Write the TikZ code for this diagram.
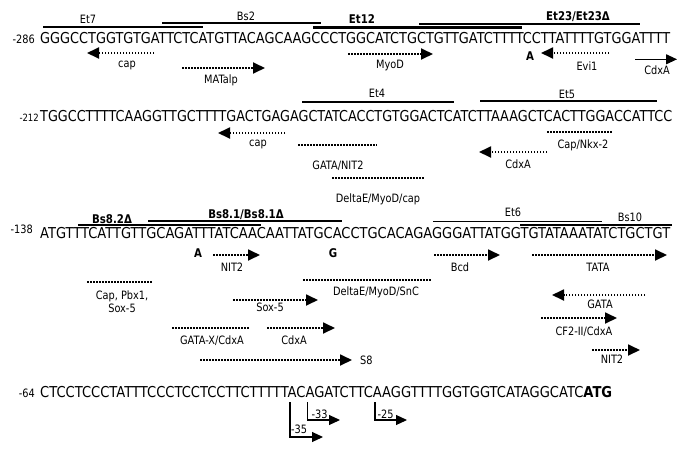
\documentclass[tikz,border=0pt]{standalone}
\usepackage{fontspec}
\setmainfont{DejaVu Sans}[FakeStretch=0.85]
\usepackage{graphicx}
\usetikzlibrary{arrows.meta}
\newsavebox\seqbox
\newcommand\fitw[2]{\sbox\seqbox{#2}\pgfmathsetmacro\fitsx{#1pt/\the\wd\seqbox}\scalebox{\fitsx}[1]{\usebox\seqbox}}
\begin{document}
\begin{tikzpicture}[x=1pt,y=-1pt,
  lab/.style={font=\fontsize{11.5}{13}\selectfont, inner sep=0pt, text height=8.4pt, text depth=0pt},
  blab/.style={font=\fontsize{12}{14}\selectfont\bfseries, inner sep=0pt, text height=8.8pt, text depth=0pt},
  seq/.style={font=\fontsize{15}{18}\selectfont, inner sep=0pt, anchor=base west},
  num/.style={font=\fontsize{11.5}{13}\selectfont, inner sep=0pt, anchor=base east},
  feat/.style={line width=1.9pt},
  featb/.style={line width=2.6pt},
  dots/.style={line width=1.8pt, dash pattern=on 1.5pt off 1.5pt},
  dotarr/.style={dots, -{Triangle[length=12pt,width=11pt]}},
  solarr/.style={line width=1.1pt, -{Triangle[length=11pt,width=10pt]}}]
\useasboundingbox (0,0) rectangle (685,450);
% ---------------- Row 1
\node[seq] (s1) at (40,43) {\fitw{630}{GGGCCTGGTGTGATTCTCATGTTACAGCAAGCCCTGGCATCTGCTGTTGATCTTTTCCTTATTTTGTGGATTTT}};
\node[num] (n1) at (35,43) {-286};
\draw[feat] (43,27) -- (203,27);
\node[lab] (et7) at (88,19) {Et7};
\draw[line width=1.6pt] (162,23) -- (321,23);
\node[lab] (bs2) at (246,16) {Bs2};
\draw[featb] (313,27.5) -- (522,27.5);
\node[blab] (et12) at (362,19.3) {Et12};
\draw[featb] (419,24) -- (640,24);
\node[blab] (et23) at (578,16) {Et23/Et23Δ};
\draw[dotarr] (154,53) -- (87,53);
\node[lab] (cap1) at (127,63.5) {cap};
\draw[dotarr] (182,68) -- (265,68);
\node[lab] (mat) at (221,79) {MATalp};
\draw[dotarr] (348,54) -- (433,54);
\node[lab] (myod) at (390,64) {MyoD};
\node[blab] (a1) at (530,56) {A};
\draw[dotarr] (609,53) -- (541,53);
\node[lab] (evi) at (587,66) {Evi1};
\draw[solarr] (635,59.3) -- (677,59.3);
\node[lab] (cdx1) at (657,70) {CdxA};
% ---------------- Row 2
\node[seq] (s2) at (40,121) {\fitw{632}{TGGCCTTTTCAAGGTTGCTTTTGACTGAGAGCTATCACCTGTGGACTCATCTTAAAGCTCACTTGGACCATTCC}};
\node[num, font=\fontsize{10}{12}\selectfont] (n2) at (39,121) {-212};
\draw[feat] (302,101.7) -- (454,101.7);
\node[lab] (et4) at (377,93.5) {Et4};
\draw[feat] (480,101) -- (657,101);
\node[lab] (et5) at (567,94) {Et5};
\draw[dotarr] (285,133) -- (218,133);
\node[lab] (cap2) at (258,142) {cap};
\draw[dots] (298,145) -- (377,145);
\node[lab] (gatanit) at (338,165) {GATA/NIT2};
\draw[dots] (332,178) -- (425,178);
\node[lab] (demc) at (378,198) {DeltaE/MyoD/cap};
\draw[dots] (547,132) -- (613,132);
\node[lab] (nkx) at (583,144) {Cap/Nkx-2};
\draw[dotarr] (547,152) -- (479,152);
\node[lab] (cdx2) at (518,164) {CdxA};
% ---------------- Row 3
\node[seq] (s3) at (40,238) {\fitw{630}{ATGTTTCATTGTTGCAGATTTATCAACAATTATGCACCTGCACAGAGGGATTATGGTGTATAAATATCTGCTGT}};
\node[num] (n3) at (33,233) {-138};
\draw[feat] (78,225) -- (261,225);
\node[blab] (bs82) at (112,219) {Bs8.2Δ};
\draw[featb] (148,221) -- (342,221);
\node[blab] (bs81) at (246,214) {Bs8.1/Bs8.1Δ};
\draw[feat] (433,221.5) -- (602,221.5);
\node[lab] (et6) at (513,212.5) {Et6};
\draw[feat] (520,225) -- (672,225);
\node[lab] (bs10) at (630,217) {Bs10};
\node[blab] (a3) at (198,253) {A};
\draw[dotarr] (213,255) -- (260,255);
\node[lab] (nit2a) at (232,267.5) {NIT2};
\node[blab] (g3) at (333,253) {G};
\draw[dotarr] (434,255) -- (500,255);
\node[lab] (bcd) at (460,267) {Bcd};
\draw[dotarr] (532,255) -- (667,255);
\node[lab] (tata) at (598,267) {TATA};
\draw[dots] (87,282) -- (153,282);
\node[lab] (cpb) at (122,295) {Cap, Pbx1,};
\node[lab] (sox5a) at (122,308.5) {Sox-5};
\draw[dots] (303,280) -- (432,280);
\node[lab] (desnc) at (376,291) {DeltaE/MyoD/SnC};
\draw[dotarr] (233,300) -- (318,300);
\node[lab] (sox5b) at (270,307.5) {Sox-5};
\draw[dotarr] (645,295) -- (552,295);
\node[lab] (gata) at (600,304) {GATA};
\draw[dotarr] (541,318) -- (617,318);
\node[lab] (cf2) at (584,331) {CF2-II/CdxA};
\draw[dots] (172,328) -- (250,328);
\node[lab] (gatax) at (212,340) {GATA-X/CdxA};
\draw[dotarr] (267,328) -- (335,328);
\node[lab] (cdx3) at (294,340) {CdxA};
\draw[dotarr] (592,350) -- (640,350);
\node[lab] (nit2b) at (612,359) {NIT2};
\draw[dotarr] (200,360) -- (352,360);
\node[lab, anchor=west] (s8) at (360,360.5) {S8};
% ---------------- Row 4
\node[seq] (s4) at (40,397) {\fitw{572}{CTCCTCCCTATTTCCCTCCTCCTTCTTTTTACAGATCTTCAAGGTTTTGGTGGTCATAGGCATC\textbf{ATG}}};
\node[num] (n4) at (35,397) {-64};
\draw[solarr] (290,402) -- (290,437) -- (323,437);
\node[lab] (m35) at (299,429) {-35};
\draw[solarr] (307.7,402) -- (307.7,420) -- (340,420);
\node[lab] (m33) at (319.5,414) {-33};
\draw[solarr] (375,402) -- (375,420) -- (407,420);
\node[lab] (m25) at (385.5,414) {-25};
\end{tikzpicture}
\end{document}
